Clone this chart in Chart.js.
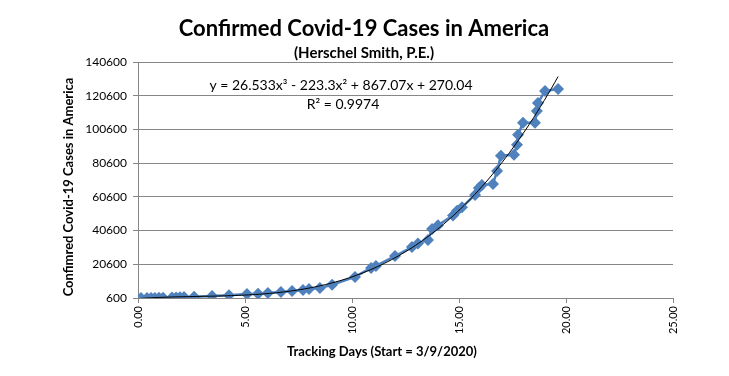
<!DOCTYPE html>
<html>
<head>
<meta charset="utf-8">
<script src="https://cdn.jsdelivr.net/npm/chart.js@4.4.1/dist/chart.umd.min.js"></script>
<style>
  html, body { margin: 0; padding: 0; background: #fff; }
  #wrap { width: 729px; height: 376px; }
</style>
</head>
<body>
<div id="wrap"><canvas id="main" width="729" height="376"></canvas></div>
<script>
// Tracking days (start = 3/9/2020) and confirmed cases
const trackingDays = [
  0.14, 0.42, 0.61, 0.79, 0.98, 1.17, 1.59, 1.78, 1.96, 2.15,
  2.62, 3.46, 4.25, 5.09, 5.61, 6.07, 6.68, 7.20, 7.71, 7.99,
  8.50, 9.07, 10.14, 10.89, 11.12, 12.01, 12.80, 13.08, 13.55, 13.74,
  14.02, 14.72, 14.91, 15.14, 15.75, 15.93, 16.07, 16.59, 16.78, 16.96,
  17.57, 17.71, 17.76, 17.99, 18.55, 18.64, 18.69, 19.02, 19.63
];
const confirmedCases = [
  600, 600, 600, 650, 700, 750, 900, 950, 1000, 1200,
  1300, 1750, 2300, 2900, 3100, 3600, 4200, 4800, 5400, 5900,
  6500, 8500, 13100, 18400, 19600, 25500, 30800, 33000, 35000, 41500,
  43700, 49600, 52300, 54500, 61700, 65800, 67700, 68300, 76000, 85000,
  85600, 91500, 97400, 104500, 104500, 111600, 116300, 123400, 124600
];
const xTicks = [0, 5, 10, 15, 20, 25];
const yTicks = [600, 20600, 40600, 60600, 80600, 100600, 120600, 140600];

// Polynomial trendline shown on the chart (order 3)
const trendCoefs = [26.533, -223.3, 867.07, 270.04];
const trendLabel = 'y = 26.533x\u00B3 - 223.3x\u00B2 + 867.07x + 270.04';
const r2Label = 'R\u00B2 = 0.9974';

const chartTitle = 'Confirmed Covid-19 Cases in America';
const chartSubtitle = '(Herschel Smith, P.E.)';
const xTitle = 'Tracking Days (Start = 3/9/2020)';
const yTitle = 'Confimred Covid-19 Cases in America';

const markerColor = '#4F81BD';
const gridColor = '#868686';

function trendPoints() {
  const x0 = Math.min(...trackingDays);
  const x1 = Math.max(...trackingDays);
  const pts = [];
  for (let i = 0; i <= 120; i++) {
    const x = x0 + (x1 - x0) * i / 120;
    const y = trendCoefs.reduce((acc, c) => acc * x + c, 0);
    pts.push({ x: x, y: y });
  }
  return pts;
}

const textPlugin = {
  id: 'chartText',
  afterDraw(chart) {
    const ctx = chart.ctx;
    ctx.save();
    ctx.fillStyle = '#000';
    ctx.textAlign = 'center';
    ctx.textBaseline = 'middle';

    ctx.font = 'bold 22px Lato';
    ctx.fillText(chartTitle, 364, 29);
    ctx.font = 'bold 15px Lato';
    ctx.fillText(chartSubtitle, 364, 53);

    ctx.font = '14px Lato';
    ctx.fillText(trendLabel, 341, 85);
    ctx.fillText(r2Label, 343, 104);

    ctx.font = 'bold 13px Lato';
    ctx.fillText(xTitle, 382, 352);

    ctx.translate(69, 187);
    ctx.rotate(-Math.PI / 2);
    ctx.fillText(yTitle, 0, 0);
    ctx.restore();
  }
};

function renderChart() {
  const points = trackingDays.map((d, i) => ({ x: d, y: confirmedCases[i] }));

  new Chart(document.getElementById('main').getContext('2d'), {
    type: 'scatter',
    data: {
      datasets: [
        {
          label: 'Trendline',
          data: trendPoints(),
          showLine: true,
          borderColor: '#000',
          borderWidth: 1,
          pointRadius: 0,
          tension: 0,
          order: 0
        },
        {
          label: 'Confirmed cases',
          data: points,
          showLine: true,
          borderColor: markerColor,
          borderWidth: 2.5,
          backgroundColor: markerColor,
          pointStyle: 'rectRot',
          pointRadius: 6,
          pointBorderWidth: 0,
          order: 1
        }
      ]
    },
    options: {
      responsive: false,
      animation: false,
      layout: { padding: { left: 0, top: 62, right: 56, bottom: 0 } },
      plugins: {
        legend: { display: false },
        tooltip: { enabled: false }
      },
      scales: {
        x: {
          type: 'linear',
          min: 0,
          max: 25,
          afterFit: s => { s.height = 78; },
          afterBuildTicks: s => { s.ticks = xTicks.map(v => ({ value: v })); },
          grid: { drawOnChartArea: false, drawTicks: true, tickLength: 5, color: gridColor },
          border: { color: gridColor },
          ticks: {
            minRotation: 90,
            maxRotation: 90,
            padding: 3,
            color: '#000',
            font: { family: 'Lato', size: 11 },
            callback: v => Number(v).toFixed(2)
          }
        },
        y: {
          min: 600,
          max: 140600,
          afterFit: s => { s.width = 138; },
          afterBuildTicks: s => { s.ticks = yTicks.map(v => ({ value: v })); },
          grid: { color: gridColor, tickLength: 5 },
          border: { color: gridColor },
          ticks: {
            padding: 6,
            color: '#000',
            font: { family: 'Lato', size: 12 },
            callback: v => String(v)
          }
        }
      }
    },
    plugins: [textPlugin]
  });
}

Promise.all([
  document.fonts.load('bold 22px Lato'),
  document.fonts.load('14px Lato')
]).then(renderChart, renderChart);
</script>
</body>
</html>
